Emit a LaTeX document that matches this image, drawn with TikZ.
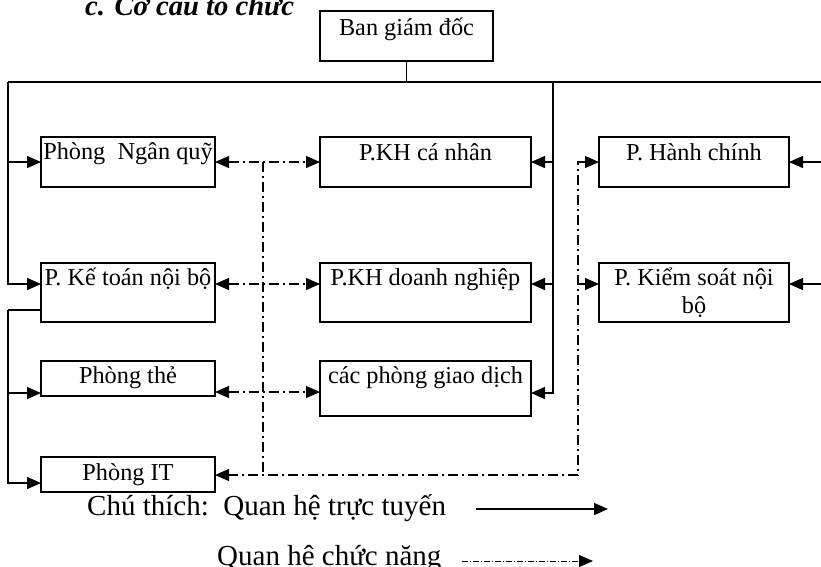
\documentclass[tikz,border=0pt]{standalone}
\usepackage{fontspec}
\setmainfont{Liberation Serif}
\usetikzlibrary{arrows.meta}
\begin{document}
\begin{tikzpicture}[x=1pt,y=-1pt,
  box/.style={draw, line width=1.6pt, inner sep=0pt, outer sep=0pt},
  txt/.style={inner sep=0pt, font=\fontsize{24.3}{29}\selectfont},
  legtxt/.style={inner sep=0pt, font=\fontsize{29}{34}\selectfont},
  line/.style={line width=1.4pt},
  func/.style={line width=1.2pt, dash pattern=on 10pt off 4pt on 2pt off 4pt},
  legfunc/.style={line width=0.8pt, dash pattern=on 6pt off 2pt on 1pt off 2pt},
  arr/.style={-{Triangle[length=14pt,width=12pt]}},
  darr/.style={{Triangle[length=14pt,width=12pt]}-{Triangle[length=14pt,width=12pt]}}]
\useasboundingbox (0,0) rectangle (821,566);
% title
\node[inner sep=0pt, anchor=base west, font=\fontsize{28.6}{34}\selectfont\bfseries\itshape] (title) at (85,15) {c. Cơ cấu tổ chức};
% boxes
\node[box, anchor=north west, minimum width=173pt, minimum height=50pt] (bgd) at (320,11) {};
\node[box, anchor=north west, minimum width=174pt, minimum height=50pt] (nq) at (41,137) {};
\node[box, anchor=north west, minimum width=174pt, minimum height=59pt] (kt) at (41,263) {};
\node[box, anchor=north west, minimum width=174pt, minimum height=35pt] (the) at (41,361) {};
\node[box, anchor=north west, minimum width=174pt, minimum height=35pt] (it) at (41,457) {};
\node[box, anchor=north west, minimum width=211pt, minimum height=50pt] (khcn) at (320,137) {};
\node[box, anchor=north west, minimum width=211pt, minimum height=59pt] (khdn) at (320,263) {};
\node[box, anchor=north west, minimum width=211pt, minimum height=55pt] (gd) at (320,361) {};
\node[box, anchor=north west, minimum width=190pt, minimum height=50pt] (hc) at (599,137) {};
\node[box, anchor=north west, minimum width=190pt, minimum height=59pt] (ks) at (599,263) {};
% texts
\node[txt, anchor=base] (bgdt) at (bgd.north |- 0,35) {Ban giám đốc};
\node[txt, anchor=base] (nqt) at (nq.north |- 0,159) {Phòng\ \ Ngân quỹ};
\node[txt, anchor=base] (ktt) at (kt.north |- 0,285) {P. Kế toán nội bộ};
\node[txt, anchor=base] (thet) at (the.north |- 0,383) {Phòng thẻ};
\node[txt, anchor=base] (itt) at (it.north |- 0,480) {Phòng IT};
\node[txt, anchor=base] (khcnt) at (khcn.north |- 0,160) {P.KH cá nhân};
\node[txt, anchor=base] (khdnt) at (khdn.north |- 0,285) {P.KH doanh nghiệp};
\node[txt, anchor=base] (gdt) at (gd.north |- 0,383) {các phòng giao dịch};
\node[txt, anchor=base] (hct) at (hc.north |- 0,160) {P. Hành chính};
\node[txt, anchor=base] (kst1) at (ks.north |- 0,285) {P. Kiểm soát nội};
\node[txt, anchor=base] (kst2) at (ks.north |- 0,313) {bộ};
% solid structure
\coordinate (tl) at (8,82);
\coordinate (tr) at (825,82);
\coordinate (mt) at (553,82);
\coordinate (l2) at (8,310);
\coordinate (r1) at (825,162);
\coordinate (r2) at (825,284);
\draw[line] (bgd.south) -- (bgd.south |- tl);
\draw[line] (tl) -- (tr);
\draw[line,arr] (tl) |- (nq.west);
\draw[line,arr] (tl) |- (kt.west |- 0,284);
\draw[line] (kt.west |- l2) -- (l2);
\draw[line,arr] (l2) |- (the.west |- 0,393);
\draw[line,arr] (l2) |- (it.west |- 0,483);
\draw[line,arr] (mt) |- (khcn.east);
\draw[line,arr] (mt) |- (khdn.east |- 0,284);
\draw[line,arr] (mt) |- (gd.east |- 0,393);
\draw[line,arr] (r1) -- (hc.east);
\draw[line,arr] (r2) -- (ks.east |- r2);
% functional
\coordinate (fv1) at (263,162);
\coordinate (fv2) at (263,475);
\coordinate (fr) at (578,475);
\draw[func,darr] (nq.east) -- (khcn.west);
\draw[func,darr] (kt.east |- 0,284) -- (khdn.west |- 0,284);
\draw[func,darr] (the.east |- 0,392) -- (gd.west |- 0,392);
\draw[func] (fv1) -- (fv2);
\draw[func,darr] (hc.west) -| (fr) -- (it.east |- fr);
\draw[func,arr] (fr |- 0,284) -- (ks.west |- 0,284);
% legend
\node[legtxt, anchor=base west] (leg1) at (87,515) {Chú thích:\ \ Quan hệ trực tuyến};
\node[legtxt, anchor=base west] (leg2) at (217,565) {Quan hệ chức năng};
\coordinate (la1) at (476,509);
\coordinate (la2) at (608,509);
\coordinate (lb1) at (462,561);
\coordinate (lb2) at (593,561);
\draw[line,arr] (la1) -- (la2);
\draw[legfunc,arr] (lb1) -- (lb2);
\end{tikzpicture}
\end{document}
